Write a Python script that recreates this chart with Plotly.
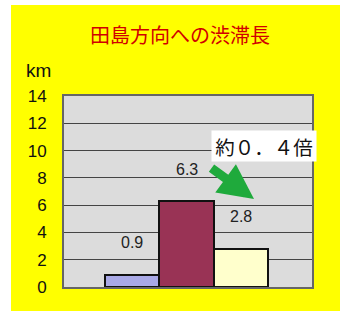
import plotly.graph_objects as go

categories = ["A", "B", "C"]
values = [0.9, 6.3, 2.8]
value_labels = ["0.9", "6.3", "2.8"]
bar_colors = ["#a9a9e6", "#993355", "#ffffcc"]
y_ticks = [0, 2, 4, 6, 8, 10, 12, 14]
title_text = "田島方向への渋滞長"
unit_text = "km"
ratio_text = "約０．４倍"

W, H = 340, 311
L, R, T, B = 64, 28, 96, 24
pw, ph = W - L - R, H - T - B

def px(x):
    return (x - L) / pw

def py(y):
    return (H - B - y) / ph

xs = list(range(len(categories)))

fig = go.Figure()
fig.add_trace(go.Bar(
    x=xs, y=values, width=1.0,
    marker=dict(color=bar_colors, line=dict(color="#111111", width=2)),
    hoverinfo="skip",
))

annotations = []
for xi, v, t in zip(xs, values, value_labels):
    annotations.append(dict(x=xi, y=v, xref="x", yref="y", text=t, showarrow=False,
                            yshift=32, font=dict(size=16, color="#222222", family="Liberation Sans, Arial")))

annotations += [
    dict(x=px(180), y=py(34), xref="paper", yref="paper", text=title_text, showarrow=False,
         font=dict(size=20, color="#d00000", family="Noto Sans CJK JP"), xanchor="center", yanchor="middle"),
    dict(x=px(38), y=py(70), xref="paper", yref="paper", text=unit_text, showarrow=False,
         font=dict(size=19, color="#111111", family="Liberation Sans, Arial"), xanchor="center", yanchor="middle"),
    dict(x=px(264), y=py(146), xref="paper", yref="paper", text=ratio_text, showarrow=False,
         font=dict(size=19.5, color="#111111", family="Noto Sans CJK JP"), xanchor="center", yanchor="middle",
         bgcolor="#ffffff", borderpad=1, width=102, height=28),
    dict(x=px(254), y=py(199), xref="paper", yref="paper", text="", showarrow=True,
         ax=-44, ay=-32, arrowcolor="#1faa3c", arrowwidth=9, arrowhead=2, arrowsize=0.78),
]

fig.update_layout(
    width=W, height=H,
    margin=dict(l=L, r=R, t=T, b=B),
    paper_bgcolor="#ffff00",
    plot_bgcolor="#dcdcdc",
    showlegend=False,
    bargap=0,
    xaxis=dict(range=[-1.25, 3.3], showticklabels=False, showgrid=False, zeroline=False,
               showline=True, linecolor="#666666", linewidth=2, mirror=True, fixedrange=True),
    yaxis=dict(range=[0, 14], tickvals=y_ticks, ticktext=[str(v) for v in y_ticks],
               showgrid=True, gridcolor="#444444", gridwidth=1.2, zeroline=False,
               showline=True, linecolor="#666666", linewidth=2, mirror=True, ticks="",
               ticklabelstandoff=12,
               tickfont=dict(size=17, color="#111111", family="Liberation Sans, Arial")),
    annotations=annotations,
    shapes=[
        dict(type="rect", xref="paper", yref="paper", x0=-0.4, x1=px(11), y0=-0.3, y1=1.7,
             fillcolor="#ffffff", line=dict(width=0), layer="above"),
        dict(type="rect", xref="paper", yref="paper", x0=-0.4, x1=1.3, y0=py(5), y1=1.7,
             fillcolor="#ffffff", line=dict(width=0), layer="above"),
    ],
)

fig.write_html("out.html", config={"displayModeBar": False},
               post_script="document.body.style.margin='0';document.body.style.overflow='hidden';")
